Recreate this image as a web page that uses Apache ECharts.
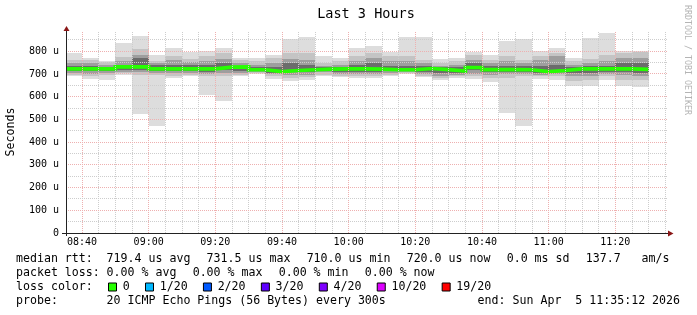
<!DOCTYPE html>
<html>
<head>
<meta charset="utf-8">
<title>Last 3 Hours</title>
<script src="https://cdn.jsdelivr.net/npm/echarts@6.0.0/dist/echarts.min.js"></script>
<style>
html,body{margin:0;padding:0;background:#ffffff;}
#chart{width:697px;height:315px;}
</style>
</head>
<body>
<div id="chart"></div>
<script>
// ---------------- data ----------------
const slotStarts = ['08:35','08:40','08:45','08:50','08:55','09:00','09:05','09:10','09:15','09:20',
  '09:25','09:30','09:35','09:40','09:45','09:50','09:55','10:00','10:05','10:10',
  '10:15','10:20','10:25','10:30','10:35','10:40','10:45','10:50','10:55','11:00',
  '11:05','11:10','11:15','11:20','11:25'];
// smoke bands (microseconds): outermost (1) to innermost (4)
const smokeLo1 = [690,679,675,697,525,469,682,690,609,579,690,701,679,668,675,690,685,681,682,690,700,685,672,682,679,663,528,472,678,675,645,645,675,645,641];
const smokeHi1 = [790,772,756,834,869,785,812,796,800,812,768,768,785,852,864,781,771,812,822,796,864,864,766,772,796,783,844,852,800,812,771,856,884,803,800];
const smokeLo2 = [694,690,697,704,697,697,690,694,690,690,697,704,690,682,687,697,693,690,690,697,704,693,681,690,690,682,682,690,690,690,668,675,693,675,675];
const smokeHi2 = [763,760,753,775,808,756,778,766,778,790,760,756,771,793,793,749,756,778,793,778,778,760,749,756,785,763,778,763,778,793,756,766,785,793,796];
const smokeLo3 = [704,701,704,707,707,704,704,704,701,704,704,707,700,697,697,707,701,700,700,704,708,701,690,697,701,697,700,700,697,700,690,693,700,697,693];
const smokeHi3 = [749,749,741,756,785,749,760,752,756,766,749,741,749,766,763,737,741,756,771,756,756,749,737,741,763,749,756,749,760,778,741,749,756,768,771];
const smokeLo4 = [712,712,712,716,716,712,712,712,709,716,712,712,704,707,707,716,710,709,709,712,713,710,704,704,716,710,709,709,704,709,704,704,709,707,704];
const smokeHi4 = [734,734,731,741,771,738,741,738,741,749,737,729,729,749,741,729,729,740,749,737,737,734,729,731,746,737,737,734,737,741,731,734,737,746,749];
const medianRtt = [722,722,722,731,731,722,722,722,722,730,731,718,710,715,718,721,722,722,721,718,718,724,719,713,728,719,719,718,710,715,722,722,722,722,720];

const xTickLabels = ['08:40','09:00','09:20','09:40','10:00','10:20','10:40','11:00','11:20'];
const yTickLabels = ['0','100 u','200 u','300 u','400 u','500 u','600 u','700 u','800 u'];
const yAxisMax = 880;
const graphTitle = 'Last 3 Hours';
const yAxisName = 'Seconds';
const watermark = 'RRDTOOL / TOBI OETIKER';
const endTime = '11:35:12';
const rangeMinutes = 180;
const stepMinutes = 5;

const rttStats = ['719.4 us avg','731.5 us max','710.0 us min','720.0 us now','0.0 ms sd','137.7   am/s'];
const lossStats = ['0.00 % avg','0.00 % max','0.00 % min','0.00 % now'];
const lossLabels = ['0','1/20','2/20','3/20','4/20','10/20','19/20'];
const lossColors = ['#26ff00','#00b8ff','#0059ff','#5e00ff','#7e00ff','#dd00ff','#ff0000'];
const probeText = '20 ICMP Echo Pings (56 Bytes) every 300s';
const endText = 'end: Sun Apr  5 11:35:12 2026';

// ---------------- helpers ----------------
function toMin(s){ const p = s.split(':').map(Number); return p[0]*60 + p[1] + (p[2]||0)/60; }
function fmtMin(m){ const h=Math.floor(m/60), mm=Math.round(m-h*60); return String(h).padStart(2,'0')+':'+String(mm).padStart(2,'0'); }
const X_MAX = toMin(endTime);
const X_MIN = X_MAX - rangeMinutes;

const MONO = "'DejaVu Sans Mono', monospace";
const CW = 6.985;         // char advance at 11.6px
const LEG_FS = 11.6;

const chart = echarts.init(document.getElementById('chart'), null, {renderer:'canvas'});

const bandColors = ['#dddddd','#c4c4c4','#9e9e9e','#6c6c6c'];
const bands = [[smokeLo1,smokeHi1],[smokeLo2,smokeHi2],[smokeLo3,smokeHi3],[smokeLo4,smokeHi4]];

const series = [];
bands.forEach(function(b, k){
  series.push({
    type:'custom', z: 2 + k, silent:true, animation:false, clip:true,
    data: slotStarts.map(function(s,i){ return [toMin(s), toMin(s)+stepMinutes, b[0][i], b[1][i]]; }),
    encode:{x:[0,1], y:[2,3]},
    renderItem:function(params, api){
      const x0 = Math.max(api.value(0), X_MIN), x1 = Math.min(api.value(1), X_MAX);
      const a = api.coord([x0, api.value(3)]), c = api.coord([x1, api.value(2)]);
      const L = Math.round(a[0]), R = Math.round(c[0]), T = Math.round(a[1]), B = Math.round(c[1]);
      return {type:'rect', shape:{x:L, y:T, width:R-L, height:B-T}, style:{fill:bandColors[k]}};
    }
  });
});

// median line, loss colour 0
const medData = [];
slotStarts.forEach(function(s,i){ medData.push([Math.max(toMin(s),X_MIN), medianRtt[i]]); medData.push([toMin(s)+stepMinutes, medianRtt[i]]); });
series.push({
  type:'line', data: medData, symbol:'none', showSymbol:false, silent:true, animation:false, z:7, clip:true,
  lineStyle:{color:lossColors[0], width:3.6, cap:'butt', join:'miter'}
});

// grid (drawn over data, like rrdtool)
const gridV = []; for (let t = Math.ceil(X_MIN/5)*5; t < X_MAX; t += 5) gridV.push([t, 0]);
const gridH = []; for (let v = 50; v < yAxisMax; v += 50) gridH.push([X_MIN, v]);
const MAJOR = '#eeb0b0', MINOR = '#cdcdcd';
series.push({
  type:'custom', z:10, silent:true, animation:false, data: gridV, encode:{x:0,y:1},
  renderItem:function(params, api){
    const cs = params.coordSys; const t = api.value(0);
    const x = Math.floor(api.coord([t,0])[0]) + 0.5;
    const major = (Math.round(t) % 20) === 0;
    return {type:'line', shape:{x1:x, y1:cs.y - 1, x2:x, y2:cs.y+cs.height},
      style:{stroke: major ? MAJOR : MINOR, lineWidth:1, lineDash:[1,1]}};
  }
});
series.push({
  type:'custom', z:10, silent:true, animation:false, data: gridH, encode:{x:0,y:1},
  renderItem:function(params, api){
    const cs = params.coordSys; const v = api.value(1);
    const y = Math.floor(api.coord([X_MIN, v])[1]) + 0.5;
    const major = (v % 100) === 0;
    return {type:'line', shape:{x1:cs.x, y1:y, x2:cs.x+cs.width+2, y2:y},
      style:{stroke: major ? MAJOR : MINOR, lineWidth:1, lineDash:[1,1]}};
  }
});

// ---------------- graphic (text & legend) ----------------
const G = [];
function txt(x, y, s, opt){
  opt = opt || {};
  G.push({type:'text', x:x, y:y, rotation:opt.rot||0, silent:true, z:100,
    style:{text:s, fill:opt.fill||'#000', font:(opt.fs||LEG_FS)+'px '+MONO,
      textAlign:opt.align||'left', textVerticalAlign:'middle'}});
}
const ROW = [259, 273, 287, 301];
const LX = 16, VX = 106.6, GAP = 16.2;
// title
txt(366, 14, graphTitle, {fs:13.5, align:'center'});
// y axis name
txt(11, 132, yAxisName, {fs:11.6, align:'center', rot:Math.PI/2});
// watermark
txt(687.5, 60, watermark, {fs:8.3, align:'center', rot:-Math.PI/2, fill:'#b4b4b4'});
// row 1
txt(LX, ROW[0], 'median rtt:');
(function(){ let x = VX; rttStats.forEach(function(s){ txt(x, ROW[0], s); x += s.length*CW + GAP; }); })();
// row 2
txt(LX, ROW[1], 'packet loss:');
(function(){ let x = VX; lossStats.forEach(function(s){ txt(x, ROW[1], s); x += s.length*CW + GAP; }); })();
// row 3
txt(LX, ROW[2], 'loss color:');
(function(){ let x = 108.5; lossLabels.forEach(function(s,i){
  G.push({type:'rect', silent:true, z:100, shape:{x:x, y:ROW[2]-4, width:8, height:8},
    style:{fill:lossColors[i], stroke:'#000', lineWidth:1}});
  txt(x+14.2, ROW[2], s);
  x += 14.6 + s.length*CW + 15.4;
}); })();
// row 4
txt(LX, ROW[3], 'probe:');
txt(VX, ROW[3], probeText);
txt(477.6, ROW[3], endText);

// axes lines + arrows
G.push({type:'line', silent:true, z:50, shape:{x1:66.5, y1:236, x2:66.5, y2:30}, style:{stroke:'#222', lineWidth:1}});
G.push({type:'line', silent:true, z:50, shape:{x1:62, y1:233.5, x2:669, y2:233.5}, style:{stroke:'#222', lineWidth:1}});
G.push({type:'polygon', silent:true, z:51, shape:{points:[[63.5,31],[69.5,31],[66.5,26]]}, style:{fill:'#8a1616'}});
G.push({type:'polygon', silent:true, z:51, shape:{points:[[668,230.5],[668,236.5],[673.5,233.5]]}, style:{fill:'#8a1616'}});

const option = {
  animation:false,
  backgroundColor:'#ffffff',
  grid:{left:66, top:33, width:600, height:200, containLabel:false},
  xAxis:{
    type:'value', min:X_MIN, max:X_MAX,
    axisLine:{show:false}, axisTick:{show:false, customValues: xTickLabels.map(toMin)}, splitLine:{show:false},
    axisLabel:{customValues: xTickLabels.map(toMin), formatter:function(v){ return fmtMin(v); },
      fontFamily:MONO, fontSize:10, color:'#000', margin:4, showMinLabel:true, showMaxLabel:true}
  },
  yAxis:{
    type:'value', min:0, max:yAxisMax, interval:100,
    axisLine:{show:false}, axisTick:{show:false}, splitLine:{show:false},
    axisLabel:{formatter:function(v){ return yTickLabels[Math.round(v/100)] || ''; }, showMaxLabel:false,
      fontFamily:MONO, fontSize:10, color:'#000', margin:7}
  },
  graphic: G,
  series: series
};
chart.setOption(option);
</script>
</body>
</html>
